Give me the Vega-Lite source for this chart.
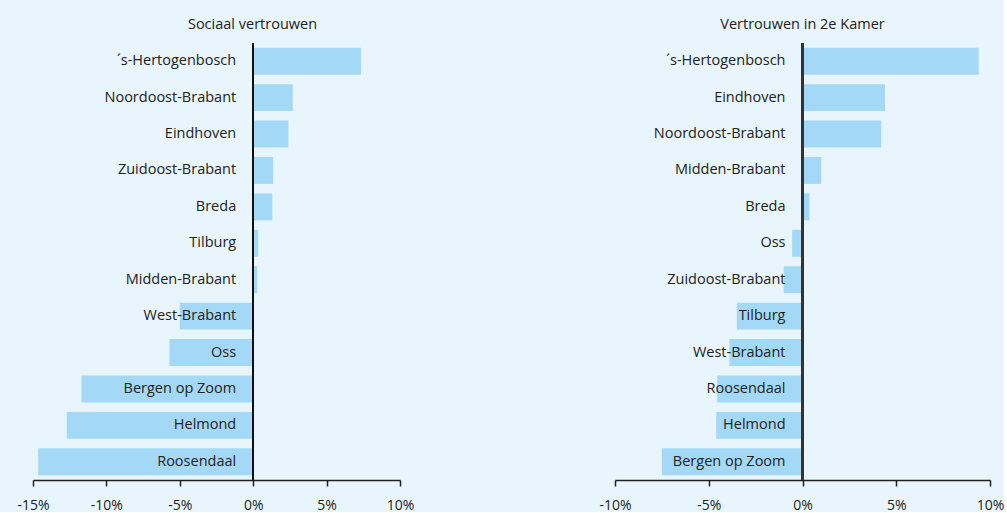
{
  "$schema": "https://vega.github.io/schema/vega-lite/v6.json",
  "background": "#e8f5fd",
  "padding": {"left": 16, "top": 16, "right": 0, "bottom": 0},
  "datasets": {
    "sociaal": [
      {"regio": "´s-Hertogenbosch", "waarde": 7.35},
      {"regio": "Noordoost-Brabant", "waarde": 2.7},
      {"regio": "Eindhoven", "waarde": 2.4},
      {"regio": "Zuidoost-Brabant", "waarde": 1.36},
      {"regio": "Breda", "waarde": 1.3},
      {"regio": "Tilburg", "waarde": 0.34},
      {"regio": "Midden-Brabant", "waarde": 0.27},
      {"regio": "West-Brabant", "waarde": -5.0},
      {"regio": "Oss", "waarde": -5.7},
      {"regio": "Bergen op Zoom", "waarde": -11.7},
      {"regio": "Helmond", "waarde": -12.7},
      {"regio": "Roosendaal", "waarde": -14.65}
    ],
    "kamer": [
      {"regio": "´s-Hertogenbosch", "waarde": 9.4},
      {"regio": "Eindhoven", "waarde": 4.4},
      {"regio": "Noordoost-Brabant", "waarde": 4.2},
      {"regio": "Midden-Brabant", "waarde": 1.0},
      {"regio": "Breda", "waarde": 0.37},
      {"regio": "Oss", "waarde": -0.55},
      {"regio": "Zuidoost-Brabant", "waarde": -1.0},
      {"regio": "Tilburg", "waarde": -3.5},
      {"regio": "West-Brabant", "waarde": -3.9},
      {"regio": "Roosendaal", "waarde": -4.55},
      {"regio": "Helmond", "waarde": -4.6},
      {"regio": "Bergen op Zoom", "waarde": -7.5}
    ]
  },
  "config": {
    "view": {"stroke": null},
    "font": "Open Sans",
    "title": {"font": "Open Sans", "fontSize": 14.5, "fontWeight": "normal", "color": "#222222", "offset": 10},
    "axis": {"labelFont": "Open Sans", "labelFontSize": 14, "labelColor": "#222222", "domainColor": "#222222", "tickColor": "#222222", "domainWidth": 1.5, "tickWidth": 1.5}
  },
  "spacing": 184,
  "hconcat": [
    {
      "width": 367,
      "height": 437,
      "data": {"name": "sociaal"},
      "title": {"text": "Sociaal vertrouwen", "dx": 36},
      "encoding": {
        "y": {"field": "regio", "type": "nominal", "sort": {"field": "waarde", "order": "descending"}, "axis": null, "scale": {"paddingInner": 0.26, "paddingOuter": 0.13}}
      },
      "layer": [
        {
          "mark": {"type": "bar", "color": "#a3d9f6"},
          "encoding": {
            "x": {"field": "waarde", "type": "quantitative", "scale": {"domain": [-15, 10], "nice": false},
              "axis": {"title": null, "values": [-15, -10, -5, 0, 5, 10], "grid": false, "tickSize": 6, "labelPadding": 12, "labelExpr": "datum.value + '%'", "labelFlush": false}}
          }
        },
        {
          "mark": {"type": "text", "align": "right", "baseline": "middle", "dx": -17, "fontSize": 14.5, "color": "#222222", "font": "Open Sans"},
          "encoding": {"x": {"datum": 0, "type": "quantitative"}, "text": {"field": "regio"}}
        },
        {
          "mark": {"type": "rule", "color": "#111111", "strokeWidth": 1.5},
          "encoding": {"x": {"datum": 0, "type": "quantitative"}, "y": {"value": 0}, "y2": {"value": 437}}
        }
      ]
    },
    {
      "width": 375,
      "height": 437,
      "data": {"name": "kamer"},
      "title": {"text": "Vertrouwen in 2e Kamer"},
      "encoding": {
        "y": {"field": "regio", "type": "nominal", "sort": {"field": "waarde", "order": "descending"}, "axis": null, "scale": {"paddingInner": 0.26, "paddingOuter": 0.13}}
      },
      "layer": [
        {
          "mark": {"type": "bar", "color": "#a3d9f6"},
          "encoding": {
            "x": {"field": "waarde", "type": "quantitative", "scale": {"domain": [-10, 10], "nice": false},
              "axis": {"title": null, "values": [-10, -5, 0, 5, 10], "grid": false, "tickSize": 6, "labelPadding": 12, "labelExpr": "datum.value + '%'", "labelFlush": false}}
          }
        },
        {
          "mark": {"type": "text", "align": "right", "baseline": "middle", "dx": -17, "fontSize": 14.5, "color": "#222222", "font": "Open Sans"},
          "encoding": {"x": {"datum": 0, "type": "quantitative"}, "text": {"field": "regio"}}
        },
        {
          "mark": {"type": "rule", "color": "#333333", "strokeWidth": 2},
          "encoding": {"x": {"datum": 0, "type": "quantitative"}, "y": {"value": 0}, "y2": {"value": 437}}
        }
      ]
    }
  ]
}
